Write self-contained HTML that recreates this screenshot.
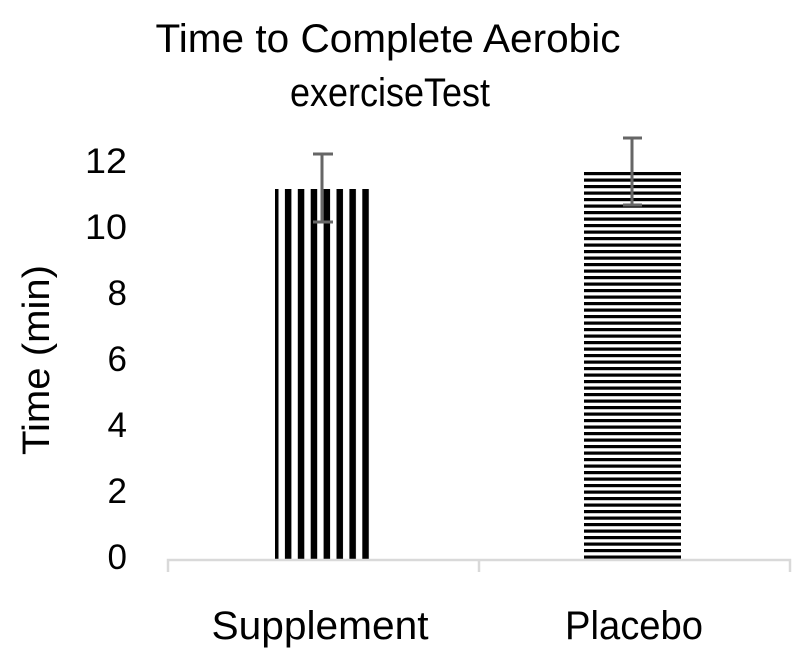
<!DOCTYPE html>
<html><head><style>body{margin:0;background:#fff}</style></head><body>
<svg width="800" height="655" xmlns="http://www.w3.org/2000/svg" font-family="Liberation Sans, sans-serif">
<defs>
<pattern id="v" patternUnits="userSpaceOnUse" x="272" y="0" width="12.9" height="10"><rect x="0" y="0" width="6.5" height="10" fill="#000"/></pattern>
<pattern id="h" patternUnits="userSpaceOnUse" x="0" y="172" width="10" height="6.5"><rect x="0" y="0" width="10" height="3.2" fill="#000"/></pattern>
</defs>
<text x="388" y="52" font-size="40" text-anchor="middle" textLength="465" lengthAdjust="spacingAndGlyphs">Time to Complete Aerobic</text>
<text x="390" y="106" font-size="40" text-anchor="middle" textLength="200" lengthAdjust="spacingAndGlyphs">exerciseTest</text>
<g font-size="35" text-anchor="end">
<text x="127" y="173" textLength="42" lengthAdjust="spacingAndGlyphs">12</text><text x="127" y="239" textLength="42" lengthAdjust="spacingAndGlyphs">10</text><text x="127" y="305">8</text>
<text x="127" y="371">6</text><text x="127" y="437">4</text><text x="127" y="503">2</text><text x="127" y="569">0</text>
</g>
<text transform="translate(49,360) rotate(-90)" font-size="38" text-anchor="middle" textLength="190" lengthAdjust="spacingAndGlyphs">Time (min)</text>
<rect x="275" y="189" width="95" height="370" fill="url(#v)"/>
<rect x="584" y="172" width="97" height="387" fill="url(#h)"/>
<path d="M168 572V560H790V572M479 560V572" stroke="#d9d9d9" stroke-width="2.5" fill="none"/>
<g stroke="#666" stroke-width="3">
<path d="M322 154V222M313 154H333M313 222H333"/>
<path d="M632 138V205M623 138H642M623 205H642"/>
</g>
<text x="320" y="639" font-size="40" text-anchor="middle" textLength="217" lengthAdjust="spacingAndGlyphs">Supplement</text>
<text x="634" y="639" font-size="40" text-anchor="middle" textLength="138" lengthAdjust="spacingAndGlyphs">Placebo</text>
</svg>
</body></html>
